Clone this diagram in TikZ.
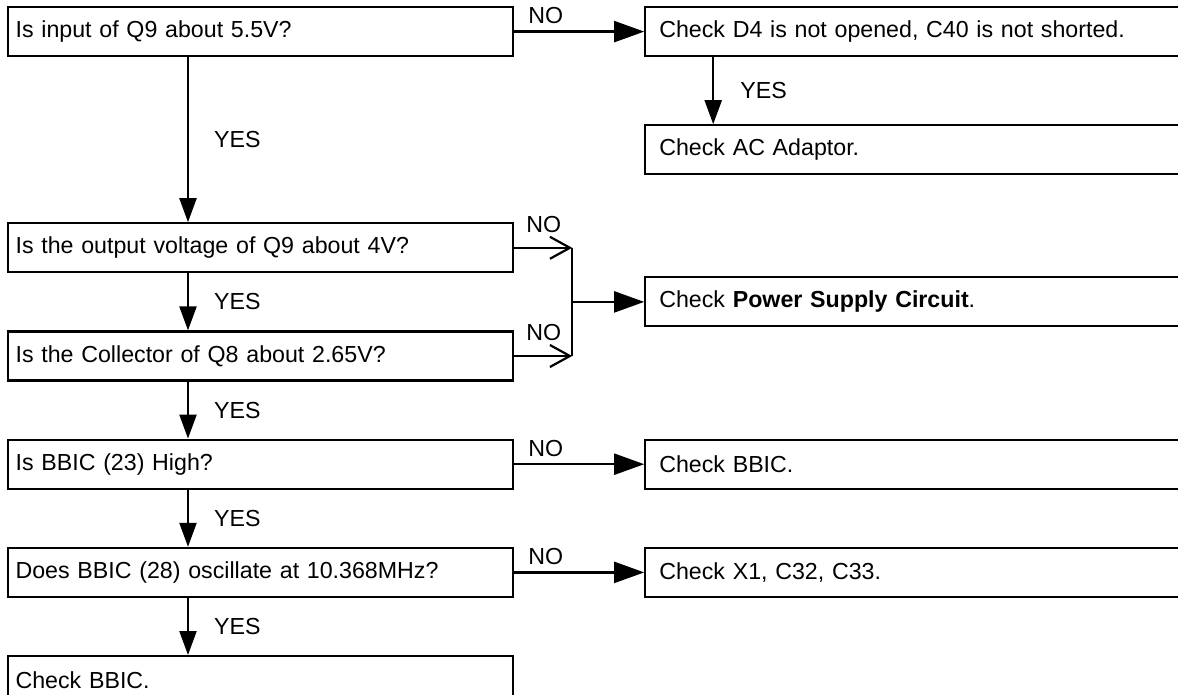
\documentclass[tikz,border=0pt]{standalone}
\usepackage{fontspec}
\setmainfont{Liberation Sans}
\usetikzlibrary{arrows.meta,positioning,calc}

\begin{document}
\begin{tikzpicture}[line width=1.1pt,
    qbox/.style={draw,minimum height=24.5pt,text width=245pt,inner xsep=3.75pt,inner ysep=0pt,align=left,font=\fontsize{11.6}{13.9}\selectfont},
    cbox/.style={draw,minimum height=24.5pt,text width=286pt,inner xsep=7pt,inner ysep=0pt,align=left,font=\fontsize{11.6}{13.9}\selectfont},
    lbl/.style={inner sep=0pt,font=\fontsize{11.6}{13.9}\selectfont},
    nolbl/.style={lbl,at start,anchor=base west,xshift=6.5pt,yshift=4pt},
    nohigh/.style={lbl,at start,anchor=base west,xshift=5.5pt,yshift=7.5pt},
    yeslbl/.style={lbl,anchor=west,xshift=12.5pt},
    harr/.style={-{Triangle[length=15pt,width=10.5pt]}},
    varr/.style={-{Triangle[length=12pt,width=8.5pt]}},
    barb/.style={-{Straight Barb[length=10pt,width=11pt]}}]
  \path[use as bounding box,fill=white] (0,0) rectangle (589pt,-347.5pt);
  % questions on the left
  \node[qbox,anchor=north west] (q1) at (3.5pt,-3pt) {Is input of Q9 about 5.5V?};
  \node[qbox,below=82.5pt of q1] (q2) {Is the output voltage of Q9 about 4V?}; \node[qbox,below=28.5pt of q2] (q3) {Is the Collector of Q8 about 2.65V?};
  \node[qbox,below=28.5pt of q3] (q4) {Is BBIC (23) High?}; \node[qbox,below=28.5pt of q4] (q5) {Does BBIC (28) oscillate at 10.368MHz?}; \node[qbox,below=28.5pt of q5] (q6) {Check BBIC.};
  % checks on the right
  \node[cbox,right=65pt of q1] (c1) {Check D4 is not opened, C40 is not shorted.}; \node[cbox,below=33.5pt of c1] (c2) {Check AC Adaptor.};
  \coordinate (j) at ($(q2.east)!.5!(q3.east)+(29pt,0)$);
  \node[cbox,right=36pt of j] (c3) {Check \textbf{Power Supply Circuit}.};
  \node[cbox,right=65pt of q4] (c4) {Check BBIC.}; \node[cbox,right=65pt of q5] (c5) {Check X1, C32, C33.};
  % YES
  \draw[varr] ([xshift=90.5pt]q1.south west) -- node[yeslbl]{YES} ([xshift=90.5pt]q2.north west);
  \draw[varr] ([xshift=90.5pt]q2.south west) -- node[yeslbl]{YES} ([xshift=90.5pt]q3.north west);
  \draw[varr] ([xshift=90.5pt]q3.south west) -- node[yeslbl]{YES} ([xshift=90.5pt]q4.north west);
  \draw[varr] ([xshift=90.5pt]q4.south west) -- node[yeslbl]{YES} ([xshift=90.5pt]q5.north west);
  \draw[varr] ([xshift=90.5pt]q5.south west) -- node[yeslbl]{YES} ([xshift=90.5pt]q6.north west);
  \draw[varr] ([xshift=34.5pt]c1.south west) -- node[yeslbl,xshift=0.5pt]{YES} ([xshift=34.5pt]c2.north west);
  % NO
  \draw[harr] (q1.east) -- node[nolbl]{NO} (c1.west); \draw[harr] (q4.east) -- node[nolbl]{NO} (c4.west); \draw[harr] (q5.east) -- node[nolbl]{NO} (c5.west);
  \draw[barb] (q2.east) -- node[nohigh]{NO} (q2.east -| j); \draw[barb] (q3.east) -- node[nohigh]{NO} (q3.east -| j);
  \draw (q2.east -| j) -- (q3.east -| j); \draw[harr] (j) -- (c3.west);
\end{tikzpicture}
\end{document}
